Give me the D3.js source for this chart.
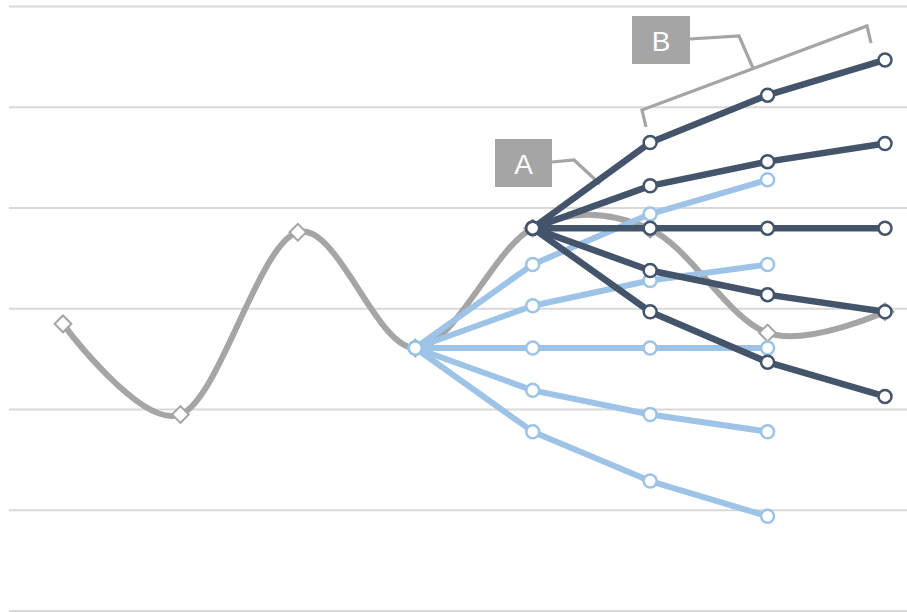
<!DOCTYPE html>
<html><head><meta charset="utf-8">
<script src="https://cdn.jsdelivr.net/npm/d3@7"></script>
<style>html,body{margin:0;padding:0;background:#fff;}svg{display:block;}</style>
</head><body>
<script>
// categories (unlabelled positions)
const categories = [0,1,2,3,4,5,6,7];
const yTicks = [0,1,2,3,4,5,6];
// historical series (smooth gray)
const history = [2.85,1.95,3.76,2.61,3.80,3.79,2.76,2.97];
// light scenario fan starting at category 3
const lightStart = 3;
const light1 = [2.61,3.44,3.94,4.28];
const light2 = [2.61,3.03,3.28,3.44];
const light3 = [2.61,2.61,2.61,2.61];
const light4 = [2.61,2.19,1.95,1.78];
const light5 = [2.61,1.78,1.29,0.94];
// dark scenario fan starting at category 4
const darkStart = 4;
const dark1 = [3.80,4.65,5.12,5.47];
const dark2 = [3.80,4.22,4.46,4.64];
const dark3 = [3.80,3.80,3.80,3.80];
const dark4 = [3.80,3.38,3.14,2.97];
const dark5 = [3.80,2.97,2.47,2.13];
const labels = ["A","B"];

const W=907,H=612;
const svg=d3.select("body").append("svg").attr("width",W).attr("height",H);
const x=d3.scalePoint().domain(categories).range([63,885]);
const y=d3.scaleLinear().domain([0,6]).range([611,6.5]);

// gridlines
svg.append("g").selectAll("line").data(yTicks).join("line")
  .attr("x1",9).attr("x2",W).attr("y1",d=>y(d)).attr("y2",d=>y(d))
  .attr("stroke","#d9d9d9").attr("stroke-width",2);

const GRAY="#a5a5a5",LIGHT="#9dc3e6",DARK="#44546a";

// gray smooth line
svg.append("path").datum(history)
  .attr("d",d3.line().x((d,i)=>x(categories[i])).y(d=>y(d)).curve(d3.curveCardinal.tension(0)))
  .attr("fill","none").attr("stroke",GRAY).attr("stroke-width",6).attr("stroke-linecap","round");
svg.append("g").selectAll("path").data(history).join("path")
  .attr("d",d3.symbol(d3.symbolSquare,140)())
  .attr("transform",(d,i)=>`translate(${x(categories[i])},${y(d)}) rotate(45)`)
  .attr("fill","#fff").attr("stroke",GRAY).attr("stroke-width",2);

function fan(seriesList,start,color,w){
  const ln=d3.line().x((d,i)=>x(categories[start+i])).y(d=>y(d));
  seriesList.forEach(s=>{
    svg.append("path").datum(s).attr("d",ln).attr("fill","none")
      .attr("stroke",color).attr("stroke-width",w).attr("stroke-linejoin","round");
  });
  seriesList.forEach(s=>{
    svg.append("g").selectAll("circle").data(s).join("circle")
      .attr("cx",(d,i)=>x(categories[start+i])).attr("cy",d=>y(d)).attr("r",6.5)
      .attr("fill","#fff").attr("stroke",color).attr("stroke-width",2.5);
  });
}

// callout connectors (drawn under fans)
const ann=svg.append("g");
ann.append("path").attr("d","M552,162 L574,160 L600,184")
  .attr("fill","none").attr("stroke",GRAY).attr("stroke-width",3.2);
ann.append("path").attr("d","M646,127 L642,110 L867,26 L871,43")
  .attr("fill","none").attr("stroke",GRAY).attr("stroke-width",3.2);
ann.append("path").attr("d","M690,39 L739,36 L753,68")
  .attr("fill","none").attr("stroke",GRAY).attr("stroke-width",3.2);

fan([light1,light2,light3,light4,light5],lightStart,LIGHT,6);
fan([dark1,dark2,dark3,dark4,dark5],darkStart,DARK,6.5);

// label boxes
const boxes=[{t:labels[0],x:495,y:139,w:57,h:48},{t:labels[1],x:632,y:16,w:58,h:48}];
boxes.forEach(b=>{
  svg.append("rect").attr("x",b.x).attr("y",b.y).attr("width",b.w).attr("height",b.h).attr("fill",GRAY);
  svg.append("text").attr("x",b.x+b.w/2).attr("y",b.y+b.h/2+11).attr("text-anchor","middle")
    .attr("font-family","Liberation Sans, Arial, sans-serif").attr("font-size",28).attr("fill","#fff").text(b.t);
});
</script>
</body></html>
